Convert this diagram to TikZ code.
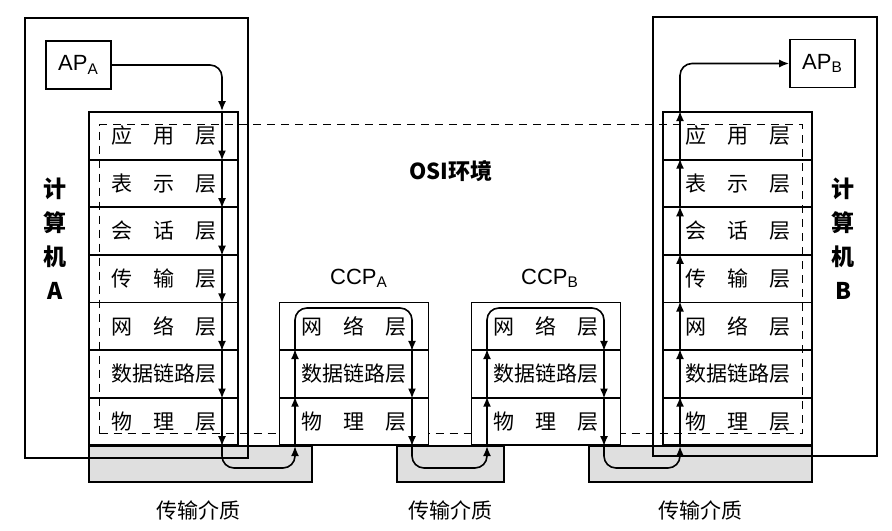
\documentclass[tikz,border=0pt]{standalone}
\usepackage{fontspec}
\setsansfont{Liberation Sans}
\newfontfamily\cjk{Noto Sans CJK SC}
\usetikzlibrary{arrows.meta}

\begin{document}
\begin{tikzpicture}[x=0.5pt, y=-0.5pt, >={Latex[length=5pt,width=4pt]}, font=\sffamily,
  layer/.style={draw, line width=0.9pt, minimum width=74.5pt, minimum height=23.8pt, inner sep=0pt, font=\cjk\fontsize{10.5}{12}\selectfont},
  pc/.style={draw, line width=1.1pt, inner sep=0pt, anchor=north west},
  medium/.style={draw, line width=0.9pt, fill=gray!25, inner sep=0pt, anchor=north west, minimum height=18pt},
  flow/.style={line width=0.8pt, rounded corners=6pt}]
  \useasboundingbox (0,0) rectangle (892,530);

  % transmission media
  \node (m1) at (88,445) [medium, minimum width=111.5pt] {};
  \node (m2) at (396,445) [medium, minimum width=53.5pt] {};
  \node (m3) at (588,445) [medium, minimum width=111.5pt] {};

  % computers
  \node (pca) at (24,17) [pc, minimum width=111.5pt, minimum height=220pt] {};
  \node (pcb) at (652,16) [pc, minimum width=112pt, minimum height=219.5pt] {};
  \node (apa) at (78.5,65) [draw, line width=0.9pt, minimum width=32.5pt, minimum height=24pt, font=\sffamily\fontsize{11}{12}\selectfont] {AP\textsubscript{A}};
  \node (apb) at (822.5,63.5) [draw, line width=0.9pt, minimum width=32.5pt, minimum height=24pt, font=\sffamily\fontsize{11}{12}\selectfont] {AP\textsubscript{B}};

  \foreach \lname [count=\i] in {应\quad 用\quad 层, 表\quad 示\quad 层, 会\quad 话\quad 层, 传\quad 输\quad 层, 网\quad 络\quad 层, 数据链路层, 物\quad 理\quad 层} {
    \node (a\i) at (163.5, {88.2+47.6*\i}) [layer] {\lname};
    \node (b\i) at (737.5, {88.2+47.6*\i}) [layer] {\lname};
  }

  % OSI environment
  \node (osi) at (99,124) [draw, dash pattern=on 4pt off 3pt, line width=0.5pt, anchor=north west, inner sep=0pt, minimum width=351.5pt, minimum height=154.5pt] {};

  % communication processors
  \foreach \lname [count=\i] in {网\quad 络\quad 层, 数据链路层, 物\quad 理\quad 层} {
    \node (ca\i) at (354, {278.6+47.6*\i}) [layer, fill=white] {\lname};
    \node (cb\i) at (546, {278.6+47.6*\i}) [layer, fill=white] {\lname};
  }

  \coordinate (xa) at (222,0);
  \coordinate (xcau) at (295,0);
  \coordinate (xcad) at (412,0);
  \coordinate (xcbu) at (487,0);
  \coordinate (xcbd) at (604,0);
  \coordinate (xb) at (680,0);
  \coordinate (low) at (0,468);
  \coordinate (top) at (0,308);

  \draw[->, flow] (apa.east) -| (a1.north -| xa);
  \foreach \i in {1,...,7} \draw[->, flow] (a\i.north -| xa) -- (a\i.south -| xa);
  \draw[->, flow] (a7.south -| xa) |- (low -| xcau) -- (ca3.south -| xcau);

  \foreach \i in {3,2} \draw[->, flow] (ca\i.south -| xcau) -- (ca\i.north -| xcau);
  \draw[->, flow] (ca1.south -| xcau) |- (top -| xcad) -- (ca1.south -| xcad);
  \foreach \i in {2,3} \draw[->, flow] (ca\i.north -| xcad) -- (ca\i.south -| xcad);
  \draw[->, flow] (ca3.south -| xcad) |- (low -| xcbu) -- (cb3.south -| xcbu);

  \foreach \i in {3,2} \draw[->, flow] (cb\i.south -| xcbu) -- (cb\i.north -| xcbu);
  \draw[->, flow] (cb1.south -| xcbu) |- (top -| xcbd) -- (cb1.south -| xcbd);
  \foreach \i in {2,3} \draw[->, flow] (cb\i.north -| xcbd) -- (cb\i.south -| xcbd);
  \draw[->, flow] (cb3.south -| xcbd) |- (low -| xb) -- (b7.south -| xb);

  \foreach \i in {7,...,1} \draw[->, flow] (b\i.south -| xb) -- (b\i.north -| xb);
  \draw[->, flow] (b1.north -| xb) |- (apb.west);

  % labels
  \node (osil) at (451,171) [font=\cjk\bfseries\fontsize{11}{13}\selectfont] {OSI环境};
  \node (ccpa) at (359,278) [font=\sffamily\fontsize{11}{12}\selectfont] {CCP\textsubscript{A}};
  \node (ccpb) at (550,278) [font=\sffamily\fontsize{11}{12}\selectfont] {CCP\textsubscript{B}};
  \node (pcal) at (55,239) [align=center, font=\cjk\bfseries\fontsize{11.5}{17}\selectfont] {计\\算\\机\\A};
  \node (pcbl) at (843,239) [align=center, font=\cjk\bfseries\fontsize{11.5}{17}\selectfont] {计\\算\\机\\B};
  \node (meda) at (198,510) [font=\cjk\fontsize{10.5}{12}\selectfont] {传输介质};
  \node (medb) at (450,510) [font=\cjk\fontsize{10.5}{12}\selectfont] {传输介质};
  \node (medc) at (700,510) [font=\cjk\fontsize{10.5}{12}\selectfont] {传输介质};
\end{tikzpicture}
\end{document}
